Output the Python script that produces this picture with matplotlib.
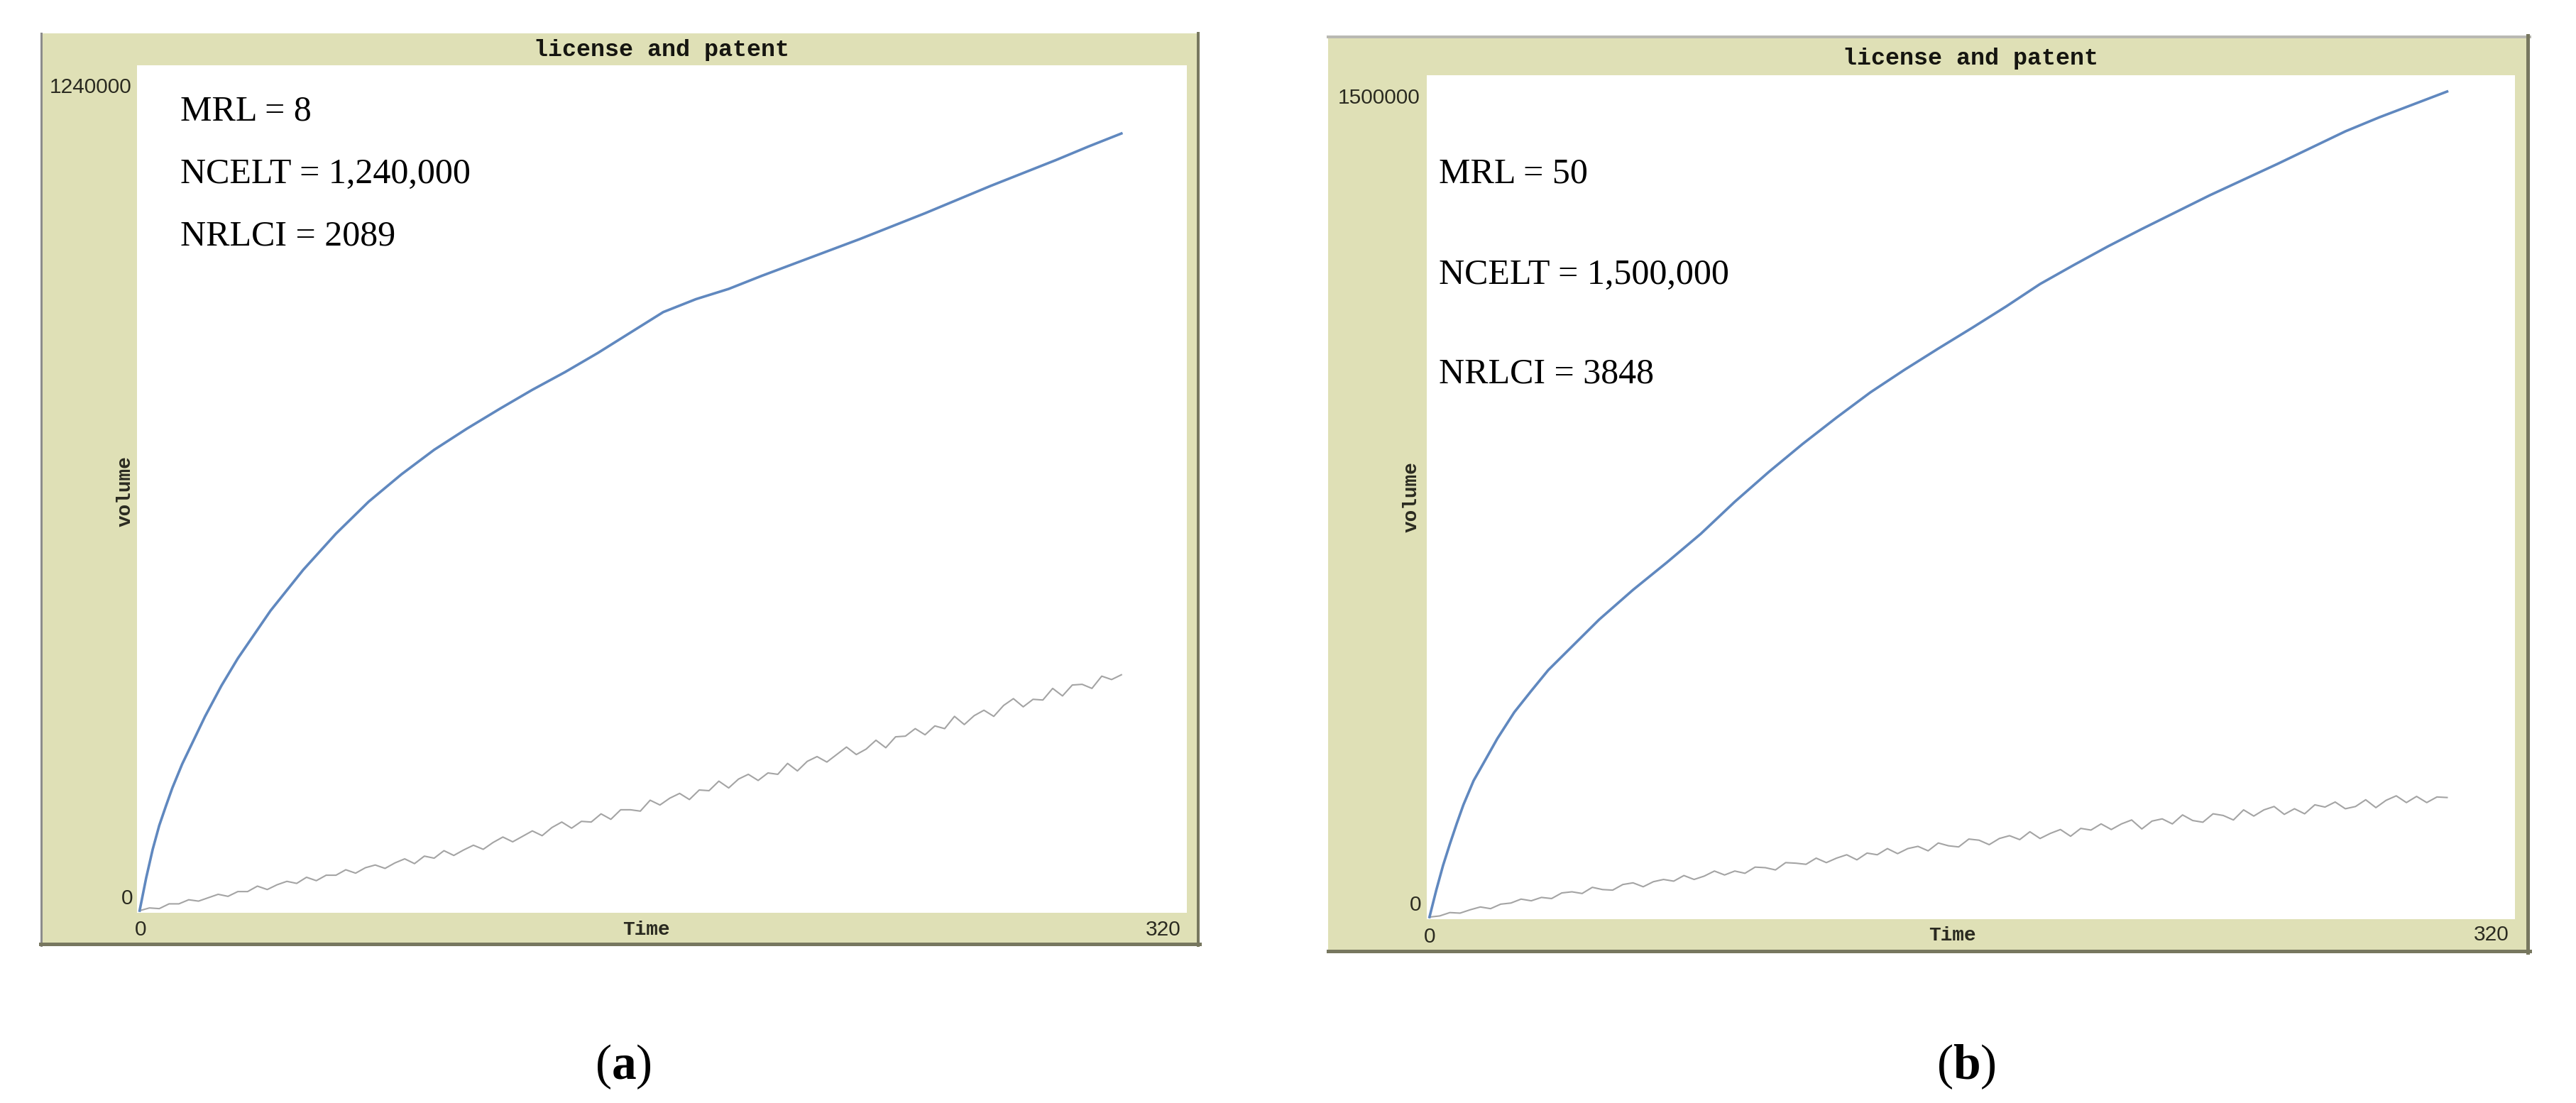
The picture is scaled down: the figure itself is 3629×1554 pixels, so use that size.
import matplotlib
matplotlib.use("Agg")
import matplotlib.pyplot as plt
from matplotlib.patches import Rectangle
from matplotlib.lines import Line2D

plt.rcParams['mathtext.fontset'] = 'custom'
plt.rcParams['mathtext.rm'] = 'Liberation Serif'
plt.rcParams['mathtext.bf'] = 'Liberation Serif:bold'

W, H = 3630, 1554

# ---------------- data (volumes in thousands) ----------------
time_blue = [0, 2, 4, 6, 8, 10, 13, 16, 20, 25, 30, 35, 40, 50, 60, 70, 80, 90, 100,
             110, 120, 130, 140, 150, 160, 170, 180, 190, 200, 210, 220, 230, 240,
             250, 260, 270, 280, 290, 300]
blue_a_k = [0, 48, 90, 125, 153, 180, 215, 245, 285, 330, 370, 405, 440, 500, 553, 600,
            640, 676, 707, 736, 764, 790, 818, 848, 878, 897, 912, 931, 949, 967, 985,
            1004, 1023, 1043, 1063, 1082, 1101, 1121, 1140]
blue_b_k = [0, 48, 92, 130, 166, 200, 243, 275, 318, 365, 403, 440, 470, 530, 583, 632,
            683, 740, 793, 843, 890, 935, 975, 1013, 1050, 1088, 1128, 1162, 1195, 1226,
            1256, 1286, 1314, 1342, 1371, 1400, 1425, 1448, 1471]

time_gray = list(range(0, 301, 3))
gray_a_k = [0, 4, 3, 10, 10, 16, 14, 19, 24, 21, 28, 28, 36, 31, 38, 43, 40, 49, 44, 52,
            52, 60, 55, 63, 67, 62, 70, 76, 69, 80, 77, 88, 81, 89, 96, 90, 100, 108, 101, 109,
            117, 110, 122, 130, 121, 131, 130, 142, 134, 148, 148, 146, 162, 155, 165, 172, 163, 177, 176, 190,
            180, 193, 200, 191, 202, 200, 216, 205, 219, 226, 218, 229, 240, 229, 237, 250, 239, 255, 256, 267,
            258, 271, 267, 285, 273, 286, 294, 285, 301, 311, 299, 310, 309, 326, 315, 331, 332, 326, 344, 339, 346]
gray_b_k = [0, 2, 8, 7, 13, 18, 15, 23, 25, 32, 29, 35, 33, 43, 45, 42, 53, 49, 48, 58,
            61, 54, 63, 67, 64, 74, 67, 73, 82, 75, 82, 78, 89, 88, 84, 97, 96, 94, 105, 97,
            105, 111, 102, 114, 111, 122, 113, 122, 126, 118, 132, 127, 125, 139, 137, 129, 140, 145, 138, 152,
            140, 149, 156, 144, 158, 155, 166, 156, 166, 173, 157, 171, 175, 166, 182, 172, 169, 184, 181, 173,
            191, 180, 191, 197, 183, 193, 184, 200, 196, 205, 193, 197, 209, 195, 208, 216, 204, 215, 204, 214, 213]

y_max = [1240000, 1500000]
x_max = 320
annotations = [["MRL = 8", "NCELT = 1,240,000", "NRLCI = 2089"],
               ["MRL = 50", "NCELT = 1,500,000", "NRLCI = 3848"]]
captions = [r"$(\mathbf{a})$", r"$(\mathbf{b})$"]
plot_title = "license and patent"
x_label = "Time"
y_label = "volume"

# ---------------- layout (pixel positions, from top-left) ----------------
panels = [
    dict(frame=(57, 47, 1690, 1332), plot=(193, 92, 1672, 1286),
         title=(932, 70), time=(910, 1310), volume=(177, 692),
         ytop=(186, 123), y0=(187, 1266), x0=(198, 1310), xend=(1664, 1310),
         ann_x=254, ann_base=[170, 258, 345], caption=(878, 1503),
         borders=[((58, 47), (58, 1332), '#8c8c8c', 3),
                  ((57, 1330), (1690, 1330), '#77775f', 5),
                  ((1688, 47), (1688, 1332), '#77775f', 4)]),
    dict(frame=(1871, 50, 3564, 1342), plot=(2010, 106, 3543, 1295),
         title=(2776, 82), time=(2750, 1318), volume=(1989, 700),
         ytop=(2001, 138), y0=(2002, 1275), x0=(2014, 1320), xend=(3535, 1317),
         ann_x=2027, ann_base=[258, 400, 540], caption=(2770, 1503),
         borders=[((1871, 52), (3564, 52), '#b9b9b2', 4),
                  ((1871, 1340), (3564, 1340), '#77775f', 5),
                  ((3561, 50), (3561, 1342), '#77775f', 5)]),
]

blue_sets = [blue_a_k, blue_b_k]
gray_sets = [gray_a_k, gray_b_k]

KHAKI = '#dfe0b6'
BLUE = '#6088bf'
GRAY = '#a4a4a4'
TXT = '#2a2a20'


def fx(x):
    return x / W


def fy(y):
    return 1 - y / H


fig = plt.figure(figsize=(W / 100, H / 100), dpi=100)
fig.patch.set_facecolor('white')

for i, p in enumerate(panels):
    x0, y0, x1, y1 = p['frame']
    fig.patches.append(Rectangle((fx(x0), fy(y1)), fx(x1 - x0), (y1 - y0) / H,
                                 transform=fig.transFigure, facecolor=KHAKI,
                                 edgecolor='none', zorder=-2))
    for (a, b, col, lw) in p['borders']:
        fig.lines.append(Line2D([fx(a[0]), fx(b[0])], [fy(a[1]), fy(b[1])],
                                transform=fig.transFigure, color=col,
                                linewidth=lw * 0.72, zorder=-1))

    px0, py0, px1, py1 = p['plot']
    ax = fig.add_axes([fx(px0), fy(py1), (px1 - px0) / W, (py1 - py0) / H])
    ax.set_zorder(2)
    ax.set_facecolor('white')
    for s in ax.spines.values():
        s.set_visible(False)
    ax.set_xticks([])
    ax.set_yticks([])
    ax.set_xlim(-0.8, x_max)
    ax.set_ylim(-y_max[i] * 0.0025, y_max[i])

    ax.plot(time_gray, [v * 1000 for v in gray_sets[i]], color=GRAY, lw=1.5)
    ax.plot(time_blue, [v * 1000 for v in blue_sets[i]], color=BLUE, lw=2.6,
            solid_joinstyle='round')

    # window texts
    fig.text(fx(p['title'][0]), fy(p['title'][1]), plot_title, ha='center', va='center',
             family='Liberation Mono', fontweight='bold', fontsize=24, color='#151510',
             zorder=5)
    fig.text(fx(p['time'][0]), fy(p['time'][1]), x_label, ha='center', va='center',
             family='Liberation Mono', fontweight='bold', fontsize=20, color=TXT, zorder=5)
    fig.text(fx(p['volume'][0]), fy(p['volume'][1]), y_label, ha='center', va='center',
             rotation=90, family='Liberation Mono', fontweight='bold', fontsize=20,
             color=TXT, zorder=5)
    fig.text(fx(p['ytop'][0]), fy(p['ytop'][1]), str(y_max[i]), ha='right', va='center',
             family='Liberation Sans', fontsize=21.5, color=TXT, zorder=5)
    fig.text(fx(p['y0'][0]), fy(p['y0'][1]), "0", ha='right', va='center',
             family='Liberation Sans', fontsize=21.5, color=TXT, zorder=5)
    fig.text(fx(p['x0'][0]), fy(p['x0'][1]), "0", ha='center', va='center',
             family='Liberation Sans', fontsize=21.5, color=TXT, zorder=5)
    fig.text(fx(p['xend'][0]), fy(p['xend'][1]), str(x_max), ha='right', va='center',
             family='Liberation Sans', fontsize=21.5, color=TXT, zorder=5)

    for txt, base in zip(annotations[i], p['ann_base']):
        fig.text(fx(p['ann_x']), fy(base), txt, ha='left', va='baseline',
                 family='Liberation Serif', fontsize=36, color='black', zorder=5)

    fig.text(fx(p['caption'][0]), fy(p['caption'][1]), captions[i], ha='center',
             va='center', fontsize=50, color='black', zorder=5)

fig.savefig('out.png', dpi=100, facecolor='white')
